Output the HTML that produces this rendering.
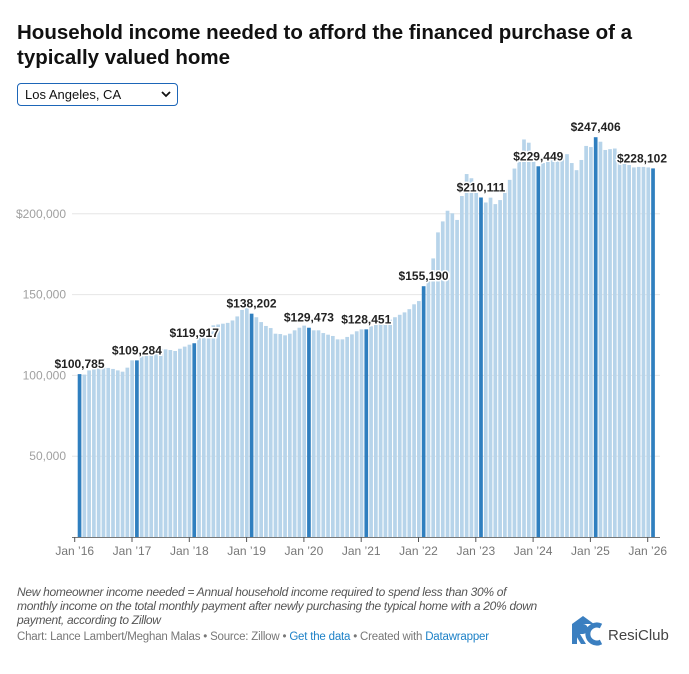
<!DOCTYPE html>
<html><head><meta charset="utf-8"><style>
body{margin:0;background:#fff;font-family:"Liberation Sans",sans-serif;}
#wrap{position:relative;width:689px;height:674px;overflow:hidden;}
h1{position:absolute;left:17px;top:20px;margin:0;font-size:20.5px;line-height:25px;font-weight:bold;color:#111;width:670px;}
#sel{position:absolute;left:17px;top:83px;width:161px;height:23px;border:1.5px solid #1d66b8;border-radius:4px;box-sizing:border-box;font-size:13px;color:#111;padding:3px 0 0 7px;}
#note{position:absolute;left:17px;top:585px;font-size:12px;line-height:14px;font-style:italic;color:#555;white-space:nowrap;letter-spacing:-0.3px;}
#cred{position:absolute;left:17px;top:631px;font-size:11.5px;color:#777;letter-spacing:-0.2px;}
#cred a{color:#1d81c7;text-decoration:none;}
#logo{position:absolute;left:569px;top:614px;}
</style></head><body><div id="wrap">
<h1>Household income needed to afford the financed purchase of a typically valued home</h1>
<div id="sel">Los Angeles, CA<svg style="position:absolute;right:6px;top:7px" width="10" height="7"><path d="M1 1 L5 5 L9 1" fill="none" stroke="#111" stroke-width="1.8"/></svg></div>
<svg id="chart" width="689" height="674" style="position:absolute;left:0;top:0"></svg>
<div id="note">New homeowner income needed = Annual household income required to spend less than 30% of<br>monthly income on the total monthly payment after newly purchasing the typical home with a 20% down<br>payment, according to Zillow</div>
<div id="cred">Chart: Lance Lambert/Meghan Malas • Source: Zillow • <a>Get the data</a> • Created with <a>Datawrapper</a></div>
<svg id="logo" width="110" height="34"><path d="M3 10 L14 2 L25 10 Z" fill="#3b7fc0"/><rect x="3" y="10" width="5" height="20" fill="#3b7fc0"/><path d="M8 10 h6 a5 5 0 0 1 0 10 h-3 l6 10 h-5 l-6-10z" fill="#3b7fc0"/><path d="M32 12 a9 9 0 1 0 0 16" fill="none" stroke="#3b7fc0" stroke-width="5"/><text x="39" y="26" font-size="15" fill="#444" font-family="Liberation Sans, sans-serif">ResiClub</text></svg>
</div>
<script>
const values=[100.8,100.5,103.1,103.7,105.2,105.8,104.6,104,103.1,102.3,104.8,109.3,
109.3,111.8,114.3,114.9,115.5,116.5,116.1,115.7,115.1,116.5,117.8,119,
119.9,123.5,126,128,131,131.5,132,132.5,134,136.5,140.5,142.1,
138.2,136,133,130.6,129.3,125.8,125.6,124.8,125.8,127.9,129.5,130.8,
129.5,127.9,127.9,126.2,125.2,124.4,122.3,122.3,123.8,125.4,127.3,128.5,
128.5,130.4,132.9,133.5,134,134.5,136,137.5,139,141,144,146,
155.2,158.6,172.4,188.5,195.3,201.9,200.3,196.2,211,224.6,222,213,
210.1,207,210,206,208.5,215,221,228,236,246,244,233,
229.4,231.4,232.2,233.5,235.3,236,236.9,231.4,227,233.3,242,241.3,
247.4,244.6,239.5,240,240.4,238,233.3,230.2,228.7,229,229,228.7,228.1];
const highlight=[0,12,24,36,48,60,72,84,96,108,120];
const labels=["$100,785","$109,284","$119,917","$138,202","$129,473","$128,451","$155,190","$210,111","$229,449","$247,406","$228,102"];
const yTicks=[50,100,150,200];
const yTickLabels=["50,000","100,000","150,000","$200,000"];
const xTickLabels=["Jan ’16","Jan ’17","Jan ’18","Jan ’19","Jan ’20","Jan ’21","Jan ’22","Jan ’23","Jan ’24","Jan ’25","Jan ’26"];
const NS="http://www.w3.org/2000/svg",svg=document.getElementById('chart');
const y=v=>537-v*1.616;
const x=i=>77.7+i*4.779;
function mk(t,a){const e=document.createElementNS(NS,t);for(const k in a)e.setAttribute(k,a[k]);svg.appendChild(e);return e;}
yTicks.forEach((t,k)=>{
 const g=mk('line',{x1:72,x2:660,y1:y(t),y2:y(t),stroke:'#e6e6e6','stroke-width':1});
 
 
 const l=mk('text',{x:66,y:y(t)+4,'text-anchor':'end','font-size':12,fill:'#a0a0a0'});
 l.textContent=yTickLabels[k];
 
 
});
values.forEach((v,i)=>{
 const hl=highlight.includes(i);
 const r=mk('rect',{x:x(i),y:y(v),width:3.7,height:537-y(v),fill:hl?'#2f7fbf':'#b7d4ea'});
 
 
});
const ax=mk('line',{x1:72,x2:660,y1:537.5,y2:537.5,stroke:'#777','stroke-width':1});


xTickLabels.forEach((t,k)=>{
 const tx=74.7+k*57.3;
 const tk=mk('line',{x1:tx,x2:tx,y1:537,y2:542,stroke:'#555','stroke-width':1});
 
 
 const l=mk('text',{x:tx,y:555,'text-anchor':'middle','font-size':12,fill:'#777'});
 l.textContent=t;
 
 
});
highlight.forEach((i,k)=>{
 const last=k===highlight.length-1;
 const l=mk('text',{x:last?667:x(i)+1.8,y:y(values[i])-6,'text-anchor':last?'end':'middle','font-size':12,'font-weight':'bold',fill:'#222',stroke:'#fff','stroke-width':3,'paint-order':'stroke'});
 l.textContent=labels[k];
 
 
});
</script></body></html>
